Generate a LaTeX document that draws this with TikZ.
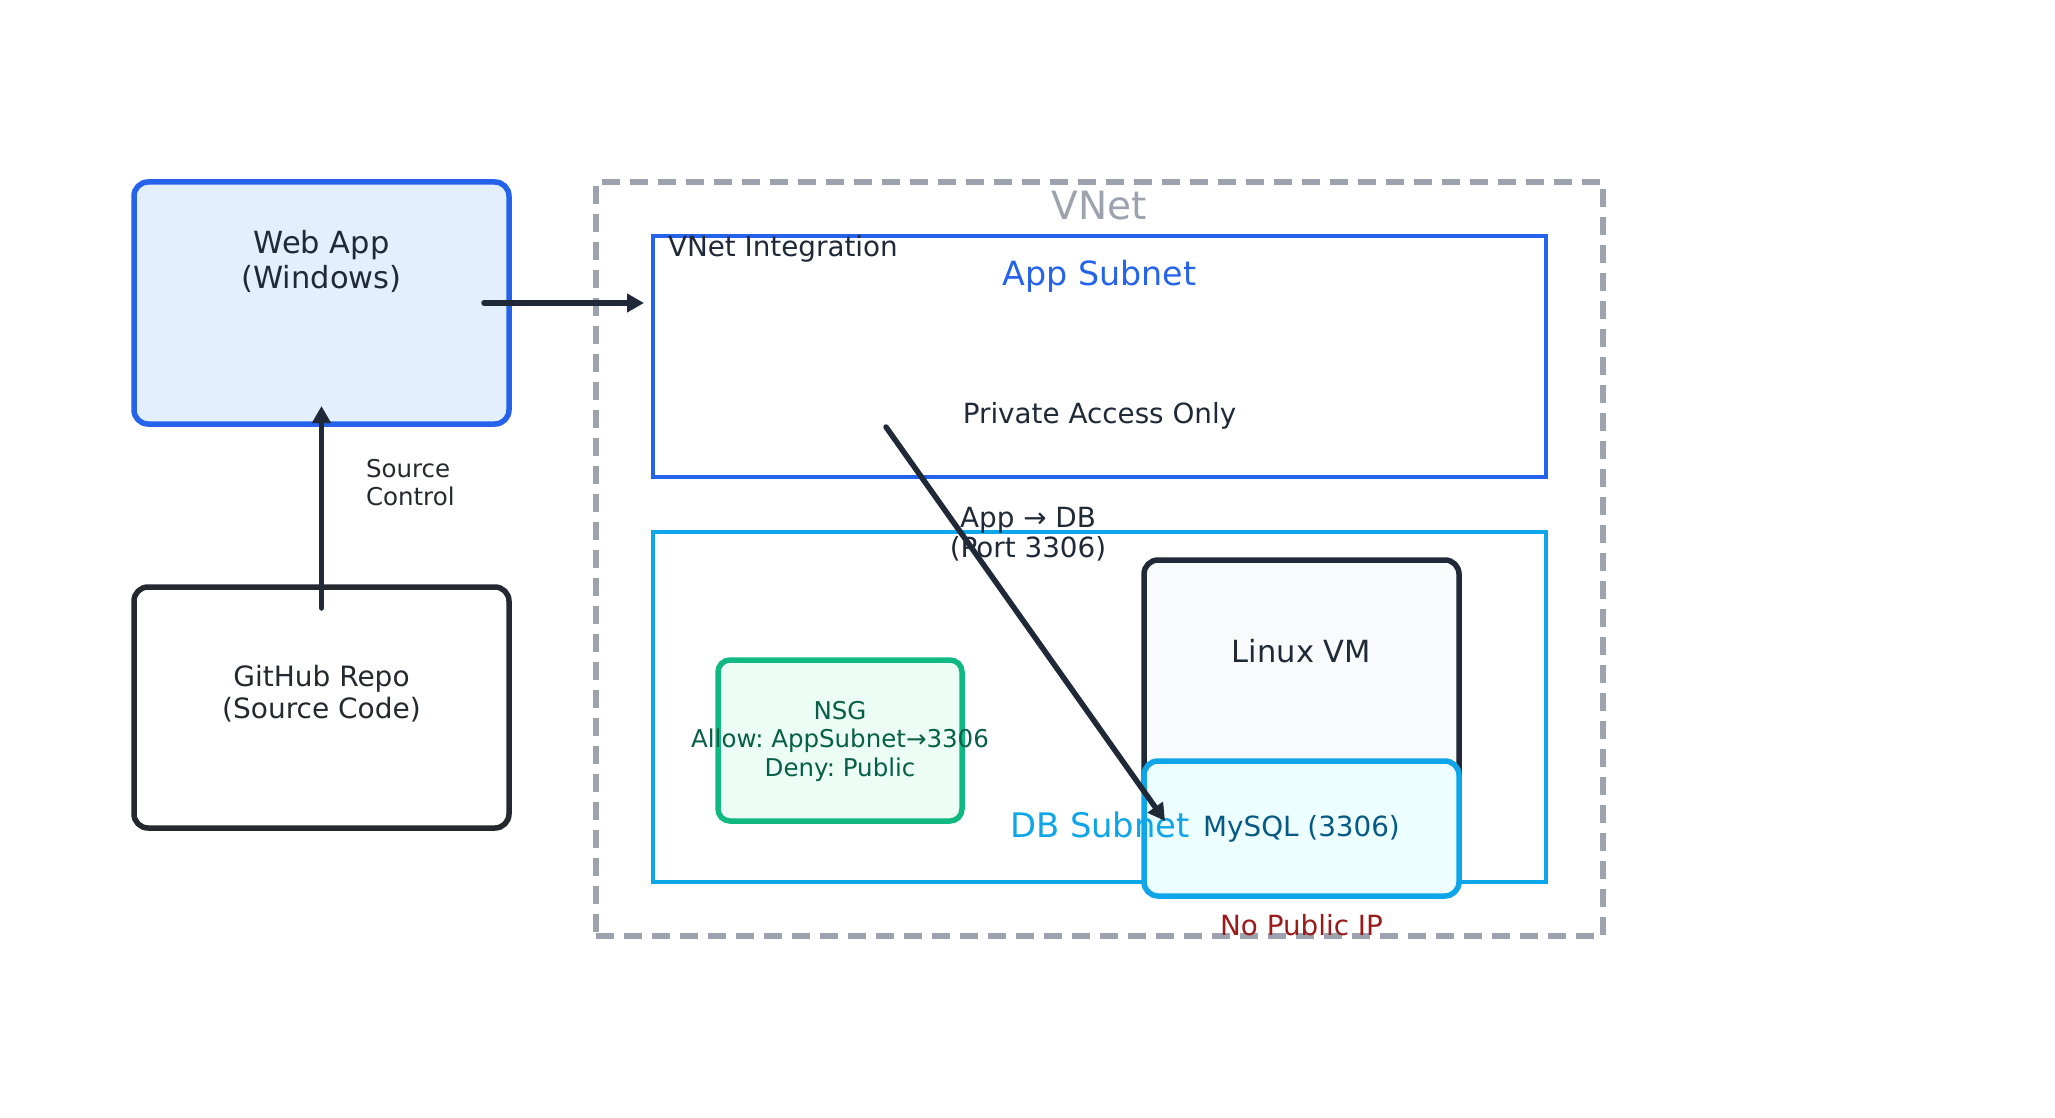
\documentclass[tikz,border=0pt]{standalone}
\usepackage{fontspec}
\setmainfont{DejaVu Sans}
\usetikzlibrary{arrows.meta}
\definecolor{ink}{HTML}{1F2937}
\definecolor{ghdark}{HTML}{24292F}
\definecolor{blue6}{HTML}{2563EB}
\definecolor{webfill}{HTML}{E3EFFD}
\definecolor{vgray}{HTML}{9CA3AF}
\definecolor{sky}{HTML}{0EA5E9}
\definecolor{skyfill}{HTML}{ECFEFF}
\definecolor{skytext}{HTML}{075985}
\definecolor{green5}{HTML}{10B981}
\definecolor{greenfill}{HTML}{ECFDF5}
\definecolor{greentext}{HTML}{065F46}
\definecolor{vmfill}{HTML}{F8FAFC}
\definecolor{red8}{HTML}{991B1B}
\frenchspacing
\begin{document}
\begin{tikzpicture}[x=1pt,y=-1pt,
  box/.style={rounded corners=14pt, inner sep=0pt, outer sep=0pt},
  flat/.style={inner sep=0pt, outer sep=0pt},
  lbl/.style={inner sep=0pt, outer sep=0pt, anchor=base, text=ink},
  arr/.style={draw=ink, line width=5.5pt, line cap=round, line join=round,
    -{Triangle[length=17pt,width=18pt]}}
]
\useasboundingbox (0,0) rectangle (2055,1118);

% containers
\node[flat, draw=vgray, line width=5.5pt, dash pattern=on 18pt off 10pt,
  minimum width=1007pt, minimum height=754pt] (vnet) at (1099.5,559) {};
\node[flat, draw=blue6, line width=4.5pt,
  minimum width=893pt, minimum height=241pt] (appsub) at (1099.5,356.5) {};
\node[flat, draw=sky, line width=4.5pt,
  minimum width=893pt, minimum height=350pt] (dbsub) at (1099.5,707) {};

% boxes
\node[box, draw=blue6, fill=webfill, line width=5.5pt,
  minimum width=375pt, minimum height=242pt] (webapp) at (321.5,303) {};
\node[box, draw=ghdark, fill=white, line width=5.5pt,
  minimum width=375pt, minimum height=241pt] (github) at (321.5,707.5) {};
\node[box, rounded corners=12pt, draw=green5, fill=greenfill, line width=5.5pt,
  minimum width=244pt, minimum height=161pt] (nsg) at (840,740.5) {};
\node[box, draw=ink, fill=vmfill, line width=5.5pt,
  minimum width=315pt, minimum height=240pt] (linuxvm) at (1301.5,680) {};
\node[box, draw=sky, fill=skyfill, line width=5.5pt,
  minimum width=315pt, minimum height=135pt] (mysql) at (1301.5,828.5) {};

% texts
\node[lbl] (t-web1) at (321.5,253) {\fontsize{30.5}{36}\selectfont Web App};
\node[lbl] (t-web2) at (321.5,288) {\fontsize{30.5}{36}\selectfont (Windows)};
\node[lbl, text=ghdark] (t-gh1) at (321.5,686) {\fontsize{28}{33}\selectfont GitHub Repo};
\node[lbl, text=ghdark] (t-gh2) at (321.5,718) {\fontsize{28}{33}\selectfont (Source Code)};
\node[lbl, anchor=base west, text=ghdark] (t-sc1) at (366,477) {\fontsize{24.5}{28}\selectfont Source};
\node[lbl, anchor=base west, text=ghdark] (t-sc2) at (366,505) {\fontsize{24.5}{28}\selectfont Control};
\node[lbl, text=vgray] (t-vnet) at (1099.5,219) {\fontsize{39}{46}\selectfont VNet};
\node[lbl, anchor=base west] (t-vint) at (668,256) {\fontsize{27.8}{33}\selectfont VNet Integration};
\node[lbl, text=blue6] (t-app) at (1099.5,285) {\fontsize{33.3}{40}\selectfont App Subnet};
\node[lbl] (t-priv) at (1099.5,423) {\fontsize{27.8}{33}\selectfont Private Access Only};
\node[lbl] (t-adb1) at (1028,527) {\fontsize{27.8}{33}\selectfont App → DB};
\node[lbl] (t-adb2) at (1028,557) {\fontsize{27.8}{33}\selectfont (Port 3306)};
\node[lbl] (t-vm) at (1301.5,662) {\fontsize{30.5}{36}\selectfont Linux VM};
\node[lbl, text=greentext] (t-nsg1) at (840,719) {\fontsize{24.5}{28}\selectfont NSG};
\node[lbl, text=greentext] (t-nsg2) at (840,747) {\fontsize{24.5}{28}\selectfont Allow: AppSubnet→3306};
\node[lbl, text=greentext] (t-nsg3) at (840,776) {\fontsize{24.5}{28}\selectfont Deny: Public};
\node[lbl, text=skytext] (t-sql) at (1301.5,836) {\fontsize{27.8}{33}\selectfont MySQL (3306)};
\node[lbl, text=sky] (t-db) at (1100,837) {\fontsize{33.8}{40}\selectfont DB Subnet};
\node[lbl, text=red8] (t-nopub) at (1301.5,935) {\fontsize{27.8}{33}\selectfont No Public IP};

% connectors
\coordinate (waout) at (484,303);
\coordinate (ghout) at (321.5,608);
\coordinate (appout) at (886,427);
\coordinate (dbin) at (1165,821);
\draw[arr, shorten >=9pt] (waout) -- (appsub.west |- waout);
\draw[arr, shorten >=-18pt] (ghout) -- (webapp.south);
\draw[arr] (appout) -- (dbin);
\end{tikzpicture}
\end{document}
